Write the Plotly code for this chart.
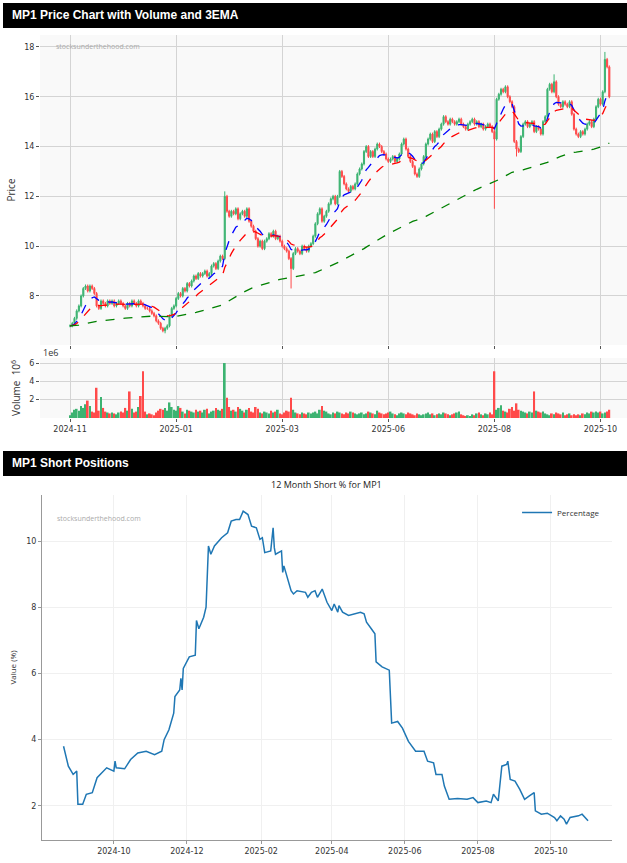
import plotly.graph_objects as go
import pandas as pd

# ---------------- Price data (trading-day index) ----------------
closes = [6.8,6.9,7.1,7.4,7.6,8.0,8.3,8.4,8.2,8.4,
          8.3,8.1,7.6,7.5,7.8,7.7,7.6,7.8,7.7,7.8,
          7.6,7.7,7.8,7.7,7.6,7.5,7.7,7.6,7.8,7.7,
          7.6,7.8,7.7,7.6,7.5,7.5,7.4,7.3,7.2,7.0,
          6.9,6.7,6.6,6.7,6.8,7.2,7.5,7.6,7.9,8.1,
          8.0,8.3,8.2,8.5,8.4,8.6,8.8,8.7,8.9,8.8,
          8.9,9.0,8.8,8.9,9.2,9.3,9.1,9.4,9.6,9.5,
          12.0,11.4,11.2,11.4,11.3,11.5,11.1,11.3,11.4,11.2,
          11.5,11.0,10.8,10.6,10.3,10.0,10.2,9.9,10.2,10.3,
          10.5,10.4,10.6,10.3,10.4,10.2,10.0,9.9,9.8,9.5,
          9.1,9.7,9.9,9.8,9.7,10.0,9.9,9.8,10.0,10.1,
          10.4,10.9,11.3,11.5,11.0,11.2,11.4,11.7,11.9,12.0,
          11.7,12.0,13.0,12.8,12.5,12.3,12.2,12.4,12.3,12.5,
          12.9,13.1,13.3,13.8,14.0,13.6,13.8,13.6,13.9,14.1,
          14.0,13.8,13.7,13.5,13.4,13.5,13.6,13.4,13.5,13.7,
          14.1,14.3,13.9,13.6,13.4,13.2,12.9,12.8,13.1,13.3,
          13.6,14.1,14.3,14.5,14.2,14.6,14.4,14.7,14.9,15.2,
          15.0,14.9,15.1,15.0,14.9,15.0,15.1,14.9,14.8,14.7,
          14.9,15.0,15.1,14.9,15.0,14.8,14.9,14.7,14.8,14.9,
          14.8,14.6,14.3,15.9,16.1,16.3,16.2,16.4,16.0,15.8,
          15.6,14.2,13.9,13.8,14.4,14.9,15.0,14.8,14.9,15.0,
          14.6,14.8,14.7,14.5,15.0,15.2,16.3,16.5,16.2,16.6,
          16.0,15.7,15.6,15.8,15.7,15.6,15.8,15.3,14.7,14.5,
          14.4,14.6,14.5,14.7,14.9,15.0,14.8,15.1,15.6,15.9,
          15.7,16.2,17.5,17.2,16.0]
extra_lows = {192: 11.5, 100: 8.3, 43: 6.5, 202: 13.6}
extra_highs = {242: 17.8, 219: 16.9, 70: 12.2}
volumes = [.3,.6,.9,1.0,.8,1.3,1.1,1.5,1.9,1.3,
           .7,.6,3.3,.8,2.3,1.1,.7,.6,.5,.6,
           .5,.4,.6,.7,.6,1.1,.8,2.9,1.0,.6,
           .7,1.2,2.4,5.1,.7,.4,.5,.4,.3,.6,
           .8,1.0,.9,1.1,.8,1.7,1.2,.9,.8,1.3,
           1.1,.7,.5,.9,.8,.7,.6,.9,.7,.8,
           .6,.9,1.0,.5,.7,.8,1.1,.9,.8,1.0,
           6.0,2.2,1.2,.8,.9,.7,1.2,1.0,.8,.6,
           .9,1.1,.7,.6,1.2,1.0,.6,.5,.7,.6,
           .5,.8,.6,.7,.9,.5,.4,.6,.8,.7,
           2.2,.9,.6,.5,.4,.6,.5,.4,.6,.5,
           .6,.7,.5,.9,1.3,.8,.7,.5,.4,.6,
           .5,.7,.6,.5,.4,.6,.5,.7,.6,.5,
           .4,.5,.6,.4,.5,.7,.6,.5,.4,.8,
           .6,.5,.4,.5,.6,.7,.5,.4,.3,.5,
           .6,.5,.4,.6,.5,.4,.3,.5,.4,.3,
           .4,.5,.6,.4,.5,.3,.4,.5,.4,.6,
           .5,.4,.3,.4,.5,.6,.7,.4,.3,.2,
           .3,.2,.4,.3,.5,.6,.4,.3,.5,.4,
           .6,.4,5.1,.9,1.1,1.4,.8,.7,.6,1.0,
           1.2,.8,1.6,.9,.8,.7,.6,.5,.7,.6,
           2.9,.8,.7,.6,.7,.5,.4,.3,.5,.4,
           .6,.5,.4,.6,.3,.4,.5,.3,.4,.3,
           .4,.3,.5,.4,.6,.5,.7,.6,.7,.6,
           .7,.5,.6,.7,.9]
tick_idx = [0, 48, 96, 144, 192, 240]
tick_labels = ["2024-11", "2025-01", "2025-03", "2025-06", "2025-08", "2025-10"]

# ---------------- Short position data ----------------
short_dates = ["2024-08-20","2024-08-24","2024-08-28","2024-08-31","2024-09-01","2024-09-05","2024-09-08",
 "2024-09-13","2024-09-17","2024-09-25","2024-10-01","2024-10-02","2024-10-03","2024-10-10","2024-10-15",
 "2024-10-21","2024-10-28","2024-11-04","2024-11-10","2024-11-12","2024-11-16","2024-11-20","2024-11-21",
 "2024-11-25","2024-11-26","2024-11-27","2024-11-28","2024-12-03","2024-12-08","2024-12-09","2024-12-11",
 "2024-12-15","2024-12-17","2024-12-19","2024-12-21","2024-12-24","2024-12-30","2025-01-04","2025-01-07",
 "2025-01-11","2025-01-14","2025-01-17","2025-01-21","2025-01-24","2025-01-28","2025-01-31","2025-02-02",
 "2025-02-04","2025-02-09","2025-02-11","2025-02-12","2025-02-13","2025-02-18","2025-02-19","2025-02-20",
 "2025-02-23","2025-02-26","2025-02-28","2025-03-03","2025-03-10","2025-03-12","2025-03-15","2025-03-18",
 "2025-03-20","2025-03-24","2025-03-28","2025-04-01","2025-04-03","2025-04-06","2025-04-07","2025-04-10",
 "2025-04-15","2025-04-20","2025-04-25","2025-04-28","2025-04-30","2025-05-04","2025-05-07","2025-05-08",
 "2025-05-13","2025-05-19","2025-05-21","2025-05-26","2025-05-30","2025-06-04","2025-06-10","2025-06-17",
 "2025-06-20","2025-06-25","2025-06-27","2025-07-02","2025-07-04","2025-07-08","2025-07-15","2025-07-23",
 "2025-07-28","2025-08-01","2025-08-08","2025-08-12","2025-08-14","2025-08-18","2025-08-21","2025-08-25",
 "2025-08-26","2025-08-28","2025-09-01","2025-09-05","2025-09-09","2025-09-13","2025-09-17","2025-09-18",
 "2025-09-23","2025-09-28","2025-10-04","2025-10-06","2025-10-09","2025-10-12","2025-10-14","2025-10-17",
 "2025-10-24","2025-10-27","2025-11-01"]
short_values = [3.8,3.2,2.95,3.05,2.05,2.05,2.35,
 2.4,2.85,3.15,3.05,3.35,3.15,3.12,3.4,
 3.6,3.65,3.55,3.65,4.0,4.3,4.8,5.3,
 5.5,5.85,5.5,6.15,6.5,6.55,7.6,7.35,
 7.7,8.0,9.85,9.6,9.85,10.1,10.25,10.6,
 10.65,10.65,10.9,10.8,10.45,10.4,10.05,10.1,
 9.65,9.7,10.4,9.8,9.6,9.7,9.05,9.25,
 8.9,8.5,8.4,8.5,8.45,8.3,8.45,8.5,
 8.3,8.55,8.15,7.9,8.1,7.85,8.05,7.85,
 7.75,7.8,7.85,7.8,7.55,7.35,7.2,6.35,
 6.2,6.1,4.5,4.55,4.35,3.95,3.65,3.65,
 3.35,3.3,2.95,2.95,2.6,2.2,2.22,2.2,
 2.25,2.1,2.15,2.1,2.35,2.15,3.2,3.25,
 3.35,2.8,2.75,2.5,2.2,2.3,2.4,1.85,
 1.75,1.78,1.65,1.55,1.7,1.6,1.45,1.65,
 1.7,1.75,1.55]

# ---------------- Build candles ----------------
n = len(closes)
idx = list(range(n))
opens = [closes[0]] + closes[:-1]
highs = [max(o, c) + 0.06 for o, c in zip(opens, closes)]
lows = [min(o, c) - 0.06 for o, c in zip(opens, closes)]
for k, v in extra_lows.items():
    lows[k] = v
for k, v in extra_highs.items():
    highs[k] = v
s = pd.Series(closes)
ema_fast = s.ewm(span=10, adjust=False).mean()
ema_mid = s.ewm(span=20, adjust=False).mean()
ema_slow = s.ewm(span=130, adjust=False).mean()
UP, DN = "#3cb371", "#ff4a4a"
vcol = [UP if c >= o else DN for o, c in zip(opens, closes)]

fig = go.Figure()
fig.add_trace(go.Candlestick(x=idx, open=opens, high=highs, low=lows, close=closes,
    increasing=dict(line=dict(color=UP, width=1), fillcolor=UP),
    decreasing=dict(line=dict(color=DN, width=1), fillcolor=DN),
    whiskerwidth=0, xaxis="x", yaxis="y", showlegend=False, hoverinfo="skip"))
for e, col in [(ema_fast, "blue"), (ema_mid, "red"), (ema_slow, "green")]:
    fig.add_trace(go.Scatter(x=idx, y=e, mode="lines", line=dict(color=col, width=1.3, dash="dash"),
                             xaxis="x", yaxis="y", showlegend=False))
fig.add_trace(go.Bar(x=idx, y=[v * 1e6 for v in volumes], marker=dict(color=vcol, line=dict(width=0)),
                     xaxis="x2", yaxis="y2", showlegend=False, width=0.8))
fig.add_trace(go.Scatter(x=pd.to_datetime(short_dates), y=short_values, mode="lines", name="Percentage",
                         line=dict(color="#1f77b4", width=1.5), xaxis="x3", yaxis="y3"))

H = 863.0
def py(p):
    return 1 - p / H

grid = "#d4d4d4"
tf = dict(size=8, color="#333", family="DejaVu Sans")
fig.update_layout(
    width=627, height=863, margin=dict(l=0, r=0, t=0, b=0),
    paper_bgcolor="white", plot_bgcolor="#f9f9f9",
    xaxis=dict(domain=[40/627, 1], anchor="y", range=[-13.6, 252], tickvals=tick_idx, showticklabels=False,
               showgrid=True, gridcolor=grid, ticks="outside", ticklen=3, tickcolor="#555",
               rangeslider=dict(visible=False), zeroline=False),
    yaxis=dict(domain=[py(345), py(35)], range=[6.03, 18.48], tickvals=[8, 10, 12, 14, 16, 18],
               showgrid=True, gridcolor=grid, tickfont=tf, ticks="outside", ticklen=3, tickcolor="#555",
               title=dict(text="Price", font=dict(size=10, color="#333"), standoff=6), zeroline=False),
    xaxis2=dict(domain=[40/627, 1], anchor="y2", range=[-13.6, 252], tickvals=tick_idx, ticktext=tick_labels,
                showgrid=True, gridcolor=grid, tickfont=tf, ticks="outside", ticklen=3, tickcolor="#555",
                zeroline=False),
    yaxis2=dict(domain=[py(418), py(358)], range=[0, 6.55e6], tickvals=[2e6, 4e6, 6e6], ticktext=["2", "4", "6"],
                showgrid=True, gridcolor=grid, tickfont=tf, ticks="outside", ticklen=3, tickcolor="#555",
                title=dict(text="Volume  10<sup>6</sup>", font=dict(size=10, color="#333"), standoff=6), zeroline=False),
    xaxis3=dict(domain=[42/627, 612/627], anchor="y3", type="date", range=["2024-08-02", "2025-11-21"],
                dtick="M2", tick0="2024-10-01", tickformat="%Y-%m", tickfont=tf, showgrid=True,
                gridcolor="#f0f0f0", showline=True, linecolor="#999", ticks="outside", ticklen=3,
                tickcolor="#999", zeroline=False),
    yaxis3=dict(domain=[py(840), py(495)], anchor="x3", range=[0.97, 11.39], tickvals=[2, 4, 6, 8, 10],
                tickfont=tf, showgrid=True, gridcolor="#f0f0f0", showline=True, linecolor="#999",
                ticks="outside", ticklen=3, tickcolor="#999", zeroline=False,
                title=dict(text="Value (%)", font=dict(size=8, color="#333"), standoff=8)),
    legend=dict(x=0.965, y=py(498), xanchor="right", yanchor="top", bgcolor="rgba(0,0,0,0)",
                font=dict(size=8, color="#333")),
)
fig.add_shape(type="rect", xref="paper", yref="paper", x0=3/627, x1=1, y0=py(28), y1=py(3),
              fillcolor="black", line=dict(width=0), layer="below")
fig.add_shape(type="rect", xref="paper", yref="paper", x0=3/627, x1=1, y0=py(476), y1=py(451),
              fillcolor="black", line=dict(width=0), layer="below")
fig.add_shape(type="rect", xref="paper", yref="paper", x0=42/627, x1=612/627, y0=py(840), y1=py(495),
              fillcolor="white", line=dict(width=0), layer="below")
ann = [
    dict(x=10/627, y=py(15.5), text="<b>MP1 Price Chart with Volume and 3EMA</b>", font=dict(size=12, color="white", family="Liberation Sans Narrow, Liberation Sans")),
    dict(x=10/627, y=py(463.5), text="<b>MP1 Short Positions</b>", font=dict(size=12, color="white", family="Liberation Sans Narrow, Liberation Sans")),
    dict(x=54/627, y=py(47), text="stocksunderthehood.com", font=dict(size=7, color="#aaa")),
    dict(x=55/627, y=py(518), text="stocksunderthehood.com", font=dict(size=7, color="#aaa")),
    dict(x=41/627, y=py(352), text="1e6", font=dict(size=9, color="#333")),
    dict(x=327/627, y=py(484), text="12 Month Short % for MP1", font=dict(size=9, color="#222"), xanchor="center"),
]
for a in ann:
    a.setdefault("xanchor", "left")
    fig.add_annotation(xref="paper", yref="paper", showarrow=False, yanchor="middle", **a)

fig.write_html("out.html", config={"displayModeBar": False},
               post_script="document.body.style.margin='0';")
